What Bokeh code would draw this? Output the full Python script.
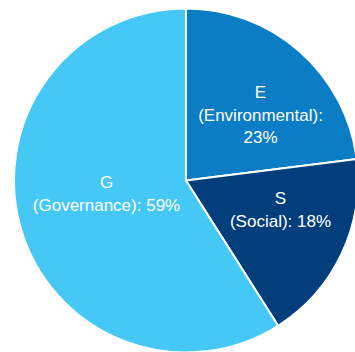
from bokeh.plotting import figure
from bokeh.models import ColumnDataSource, Range1d
from bokeh.core.properties import value
from bokeh.embed import file_html
from bokeh.resources import INLINE
import math

# Data
categories = ["E", "S", "G"]
names = ["Environmental", "Social", "Governance"]
shares = [23, 18, 59]
colors = ["#0B7DC4", "#033E7C", "#45C8F5"]

W, H = 355, 352
CX, CY, R = 185.5, H - 180, 172

start = []
end = []
acc = 0.0
for s in shares:
    a0 = math.pi / 2 - acc / 100 * 2 * math.pi
    acc += s
    a1 = math.pi / 2 - acc / 100 * 2 * math.pi
    start.append(a0)
    end.append(a1)

src = ColumnDataSource(dict(start=start, end=end, color=colors))

p = figure(width=W, height=H, output_backend="svg", toolbar_location=None,
           x_range=Range1d(0, W), y_range=Range1d(0, H), min_border=0,
           outline_line_color=None)
p.axis.visible = False
p.grid.visible = False
p.background_fill_color = None
p.border_fill_color = None

p.wedge(x=CX, y=CY, radius=R, start_angle="start", end_angle="end",
        direction="clock", fill_color="color", line_color="white",
        line_width=2, source=src)

# label lines: (text, x, y from top)
label_lines = [
    ("E", 260, 92), ("(Environmental):", 260, 114.5), ("23%", 260, 137),
    ("S", 280, 198), ("(Social): 18%", 280, 221),
    ("G", 106, 182), ("(Governance): 59%", 106, 204.5),
]
lt = [t for t, _, _ in label_lines]
lx = [x for _, x, _ in label_lines]
ly = [H - y for _, _, y in label_lines]

p.text(x=lx, y=ly, text=lt, text_color="white", text_align="center",
       text_baseline="middle", text_font=value("Liberation Sans"),
       text_font_size="17px")

open("out.html", "w").write(file_html(p, INLINE))
